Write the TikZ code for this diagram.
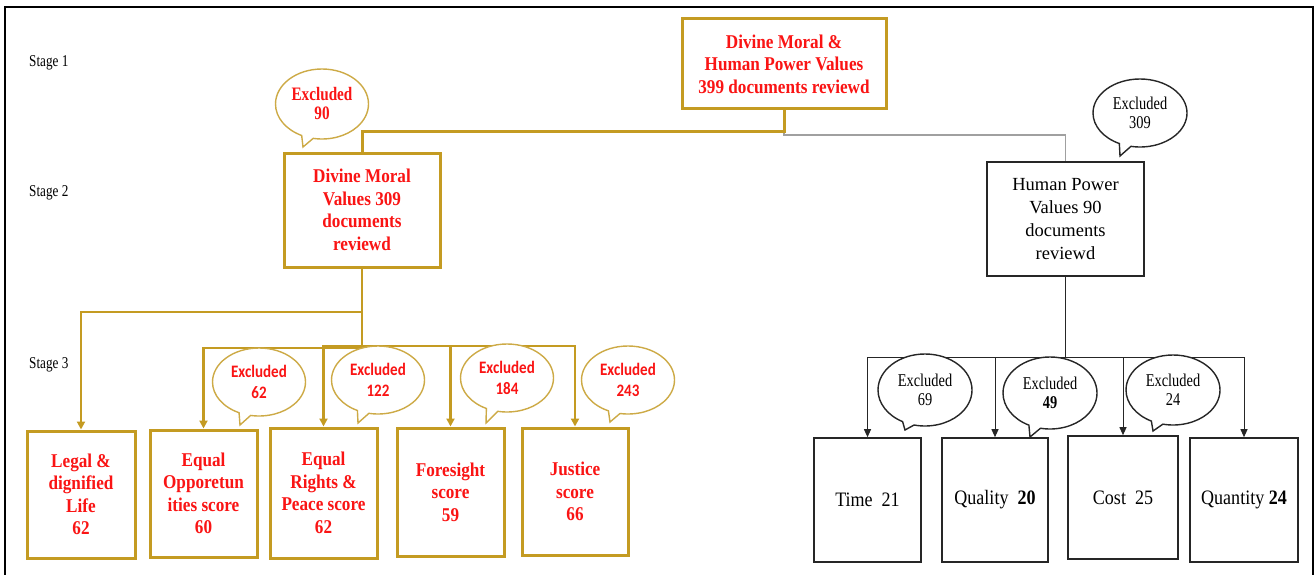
\documentclass[tikz,border=0pt]{standalone}
\usepackage{fontspec}
\setmainfont{Liberation Serif}
\newfontfamily\condA[FakeStretch=0.88]{Liberation Serif}
\newfontfamily\condB[FakeStretch=0.8]{Liberation Serif}
\newfontfamily\condC[FakeStretch=0.86]{Carlito}
\usetikzlibrary{shapes.callouts,arrows.meta}
\definecolor{goldc}{RGB}{196,155,34}
\definecolor{goldl}{RGB}{205,170,70}
\definecolor{redc}{RGB}{250,20,20}
\definecolor{grayl}{RGB}{160,160,160}
\tikzset{
  goldbox/.style={draw=goldc, line width=3pt, fill=white, align=center, text=redc, inner sep=2pt,
    font=\condA\fontsize{19.5}{22.5}\selectfont\bfseries},
  blackbox/.style={draw=black!85, line width=1.6pt, fill=white, align=center, text=black, inner sep=2pt,
    font=\fontsize{18.5}{23}\selectfont},
  smallbox/.style={draw=black!85, line width=1.6pt, fill=white, align=center, text=black, inner sep=2pt,
    font=\condA\fontsize{20.5}{23}\selectfont},
  goldline/.style={draw=goldc, line width=3pt},
  goldarrow/.style={draw=goldc, line width=2.8pt, -{Triangle[width=8pt,length=8pt]}},
  blackarrow/.style={draw=black!85, line width=1pt, -{Triangle[width=7pt,length=8pt]}},
  grayline/.style={draw=grayl, line width=1.4pt},
  goldbubble/.style={ellipse callout, draw=goldl, line width=1.4pt, fill=white, align=center, text=redc,
    inner sep=0pt, minimum width=93pt, minimum height=68pt, font=\condC\fontsize{17.5}{20.5}\selectfont\bfseries},
  redbubble/.style={ellipse callout, draw=goldl, line width=1.4pt, fill=white, align=center, text=redc,
    inner sep=0pt, minimum width=93pt, minimum height=70pt, font=\condB\fontsize{19}{19}\selectfont\bfseries},
  blackbubble/.style={ellipse callout, draw=black!85, line width=1.4pt, fill=white, align=center, text=black,
    inner sep=0pt, minimum width=94pt, minimum height=72pt, font=\condB\fontsize{18}{18.5}\selectfont},
  stagelbl/.style={anchor=west, inner sep=0pt, text=black, font=\condB\fontsize{16.5}{18}\selectfont}
}
\begin{document}
\begin{tikzpicture}[x=1pt,y=-1pt]
\useasboundingbox (0,0) rectangle (1316,575);
% frame
\draw[black, line width=1.3pt] (5,575) -- (5,7) -- (1313,7) -- (1313,575);

% stage labels
\node[stagelbl] (s1) at (29,63) {Stage 1};
\node[stagelbl] (s2) at (29,193) {Stage 2};
\node[stagelbl] (s3) at (29,365) {Stage 3};

% boxes
\node[goldbox, minimum width=204pt, minimum height=90pt] (top) at (784,64)
  {Divine Moral \&\\Human Power Values\\399 documents reviewd};
\node[goldbox, minimum width=156pt, minimum height=114pt] (dmv) at (362,210)
  {Divine Moral\\Values 309\\documents\\reviewd};
\node[blackbox, minimum width=157pt, minimum height=114pt] (hpv) at (1065.5,219)
  {Human Power\\Values 90\\documents\\reviewd};

\node[goldbox, minimum width=108pt, minimum height=127pt] (legal) at (81,494.5)
  {Legal \&\\dignified\\Life\\62};
\node[goldbox, minimum width=107pt, minimum height=127pt] (eqopp) at (203.5,493.5)
  {Equal\\Opporetun\\ities score\\60};
\node[goldbox, minimum width=107pt, minimum height=130pt] (eqr) at (323.5,493)
  {Equal\\Rights \&\\Peace score\\62};
\node[goldbox, minimum width=107pt, minimum height=128pt] (fore) at (450.5,492)
  {Foresight\\score\\59};
\node[goldbox, minimum width=106pt, minimum height=127pt] (just) at (575,491.5)
  {Justice\\score\\66};

\node[smallbox, minimum width=107pt, minimum height=124pt] (time) at (867.5,500) {Time~ 21};
\node[smallbox, minimum width=106pt, minimum height=124pt] (quality) at (995,500) {Quality~ \textbf{20}};
\node[smallbox, minimum width=110pt, minimum height=123pt] (cost) at (1123,497.5) {Cost~ 25};
\node[smallbox, minimum width=108pt, minimum height=124pt] (quantity) at (1244,500) {Quantity \textbf{24}};

% junction points
\coordinate (j1) at (784,131);
\coordinate (j2) at (784,135);
\coordinate (j3) at (362,312);
\coordinate (j4) at (362,348);
\coordinate (j5) at (362,346);
\coordinate (j6) at (1065.5,357);

% connectors
\draw[grayline] (j1) -- (j2) -| (hpv.north);
\draw[goldline] (top.south) -- (j1) -| (dmv.north);
\draw[goldarrow] (dmv.south) -- (j3) -| (legal.north);
\draw[goldarrow] (dmv.south) -- (j4) -| (eqopp.north);
\draw[goldarrow] (dmv.south) -- (j5) -| (eqr.north);
\draw[goldarrow] (dmv.south) -- (j5) -| (fore.north);
\draw[goldarrow] (dmv.south) -- (j5) -| (just.north);

\draw[blackarrow] (hpv.south) -- (j6) -| (time.north);
\draw[blackarrow] (hpv.south) -- (j6) -| (quality.north);
\draw[blackarrow] (hpv.south) -- (j6) -| (cost.north);
\draw[blackarrow] (hpv.south) -- (j6) -| (quantity.north);

% bubbles
\node[redbubble, callout absolute pointer={(303,147)}] (b90) at (322,104) {Excluded\\90};
\node[blackbubble, minimum height=68pt, callout absolute pointer={(1120,156)}] (b309) at (1140,113) {Excluded\\309};

\node[goldbubble, callout absolute pointer={(240,425)}] (b62) at (259,382) {Excluded\\62};
\node[goldbubble, callout absolute pointer={(358,423)}] (b122) at (378,380) {Excluded\\122};
\node[goldbubble, callout absolute pointer={(486,423)}] (b184) at (507,378) {Excluded\\184};
\node[goldbubble, callout absolute pointer={(610,422)}] (b243) at (628,380) {Excluded\\243};

\node[blackbubble, callout absolute pointer={(905,430)}] (b69) at (925,390) {Excluded\\69};
\node[blackbubble, callout absolute pointer={(1030,437)}] (b49) at (1050,393) {Excluded\\\textbf{49}};
\node[blackbubble, minimum height=70pt, callout absolute pointer={(1153,431)}] (b24) at (1173,390) {Excluded\\24};
\end{tikzpicture}
\end{document}
